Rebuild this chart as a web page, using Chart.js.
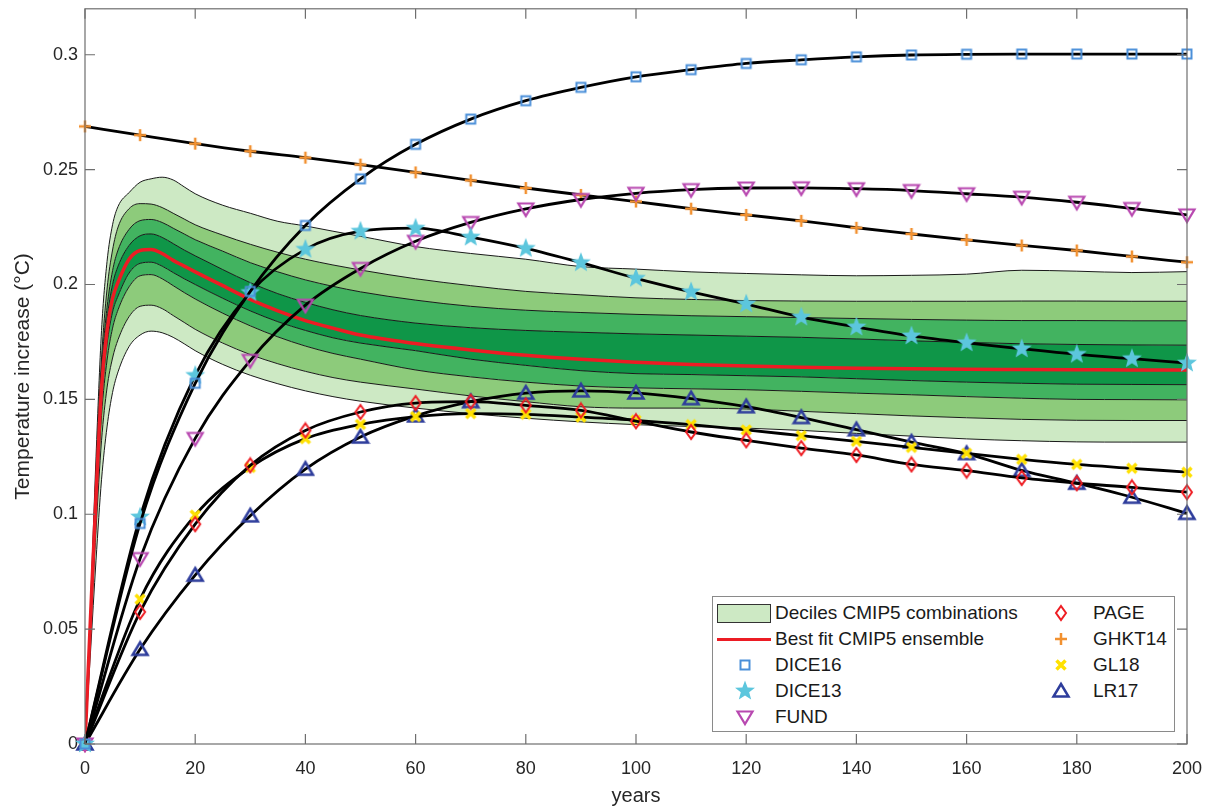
<!DOCTYPE html>
<html>
<head>
<meta charset="utf-8">
<script src="https://cdn.jsdelivr.net/npm/chart.js@4.4.1/dist/chart.umd.min.js"></script>
<style>
  body { margin: 0; background: #fff; font-family: "Liberation Sans", Arial, sans-serif; }
  #wrap { position: relative; width: 1209px; height: 808px; }
  #legend {
    position: absolute; left: 712px; top: 596px; width: 463px; height: 136px;
    border: 1px solid #8a8a8a; background: #fff; box-sizing: border-box;
    font-size: 19px; color: #1a1a1a;
  }
  .item { position: absolute; height: 24px; line-height: 24px; white-space: nowrap; }
  .item canvas { position: absolute; }
  .patch { position: absolute; left: 4px; top: 3px; width: 54px; height: 19px; background: #cde9c4; border: 1px solid #333; box-sizing: border-box; }
  .redline { position: absolute; left: 4px; top: 11px; width: 54px; height: 3px; background: #ec1c24; }
</style>
</head>
<body>
<div id="wrap">
  <canvas id="chart" width="1209" height="808"></canvas>
  <div id="legend"></div>
</div>
<script>
// model outputs every 10 years
const years = [0, 10, 20, 30, 40, 50, 60, 70, 80, 90, 100, 110, 120, 130, 140, 150, 160, 170, 180, 190, 200];
const dice16 = [0, 0.096, 0.157, 0.197, 0.2257, 0.246, 0.261, 0.272, 0.280, 0.2858, 0.2904, 0.2935, 0.2962, 0.2978, 0.2991, 0.2999, 0.3002, 0.3003, 0.3003, 0.3003, 0.3003];
const dice13 = [0, 0.0988, 0.1604, 0.1965, 0.2153, 0.2232, 0.2245, 0.2206, 0.2157, 0.2095, 0.2027, 0.1968, 0.1915, 0.1858, 0.1815, 0.1776, 0.1746, 0.172, 0.1696, 0.1677, 0.1658];
const fund = [0, 0.0807, 0.133, 0.167, 0.191, 0.207, 0.2188, 0.227, 0.2329, 0.237, 0.2397, 0.2413, 0.242, 0.2421, 0.2417, 0.2409, 0.2395, 0.238, 0.2358, 0.2331, 0.2303];
const ghkt14 = [0.2688, 0.265, 0.2613, 0.258, 0.2552, 0.2522, 0.2488, 0.2453, 0.242, 0.239, 0.2361, 0.233, 0.2303, 0.2277, 0.2247, 0.222, 0.2194, 0.217, 0.2148, 0.2122, 0.2097];
const page = [0, 0.0575, 0.0957, 0.1213, 0.1365, 0.1445, 0.1484, 0.149, 0.1474, 0.1452, 0.1405, 0.1358, 0.1322, 0.1288, 0.1258, 0.1217, 0.119, 0.1158, 0.1135, 0.1117, 0.1096];
const gl18 = [0, 0.063, 0.0996, 0.1204, 0.1329, 0.1391, 0.1425, 0.1438, 0.1435, 0.1423, 0.1409, 0.139, 0.1367, 0.1342, 0.1317, 0.1291, 0.1265, 0.1239, 0.1217, 0.12, 0.1183];
const lr17 = [0, 0.0412, 0.0735, 0.0993, 0.1196, 0.1336, 0.1428, 0.149, 0.1527, 0.1537, 0.1528, 0.1503, 0.1468, 0.1421, 0.1368, 0.1314, 0.1264, 0.1191, 0.1135, 0.1074, 0.1004];

// CMIP5 ensemble: finer grid at the start
const bandYears = [0, 1, 2, 3, 4, 5, 6, 8, 10, 12, 14, 16, 18, 20, 25, 30, 35, 40, 45, 50, 60, 70, 80, 90, 100, 110, 120, 130, 140, 150, 160, 170, 180, 190, 200];
const bestFit = [0, 0.055, 0.108, 0.155, 0.180, 0.194, 0.201, 0.211, 0.2148, 0.2152, 0.2135, 0.2105, 0.208, 0.2055, 0.1995, 0.1935, 0.1885, 0.1843, 0.181, 0.178, 0.1743, 0.1715, 0.1692, 0.1675, 0.1662, 0.1652, 0.1645, 0.164, 0.1636, 0.1633, 0.1631, 0.163, 0.1629, 0.1628, 0.1628];
const d10 = [0, 0.04, 0.08, 0.115, 0.138, 0.153, 0.162, 0.173, 0.178, 0.1797, 0.179, 0.177, 0.1742, 0.1712, 0.1652, 0.1605, 0.1568, 0.1537, 0.1512, 0.1492, 0.1462, 0.1438, 0.1418, 0.1402, 0.139, 0.1382, 0.1375, 0.1365, 0.1352, 0.134, 0.1328, 0.132, 0.1315, 0.1314, 0.1314];
const d20 = [0, 0.048, 0.093, 0.132, 0.155, 0.168, 0.176, 0.186, 0.1905, 0.191, 0.1895, 0.1865, 0.1835, 0.1805, 0.1745, 0.1695, 0.1655, 0.1622, 0.1595, 0.1575, 0.1545, 0.1515, 0.149, 0.1468, 0.1462, 0.1462, 0.1458, 0.1448, 0.1438, 0.1428, 0.142, 0.1413, 0.1409, 0.1408, 0.1408];
const d30 = [0, 0.052, 0.1, 0.143, 0.167, 0.181, 0.189, 0.199, 0.2038, 0.2043, 0.2025, 0.1995, 0.1965, 0.1937, 0.1875, 0.182, 0.1772, 0.1732, 0.17, 0.1675, 0.1628, 0.1598, 0.1575, 0.1558, 0.155, 0.1546, 0.1542, 0.1535, 0.1527, 0.152, 0.1512, 0.1505, 0.15, 0.1499, 0.1498];
const d40 = [0, 0.054, 0.105, 0.15, 0.174, 0.188, 0.195, 0.205, 0.2092, 0.2097, 0.208, 0.2052, 0.2025, 0.2, 0.194, 0.1885, 0.1838, 0.18, 0.1768, 0.1745, 0.1712, 0.1675, 0.1648, 0.1625, 0.1612, 0.1608, 0.1603, 0.1598, 0.159, 0.1582, 0.1575, 0.157, 0.1566, 0.1565, 0.1564];
const d60 = [0, 0.056, 0.111, 0.159, 0.185, 0.2, 0.208, 0.217, 0.2212, 0.222, 0.2205, 0.2178, 0.215, 0.2125, 0.2065, 0.2008, 0.196, 0.1922, 0.189, 0.1865, 0.1832, 0.1812, 0.18, 0.1792, 0.1785, 0.178, 0.1775, 0.177, 0.1763, 0.1755, 0.1748, 0.1742, 0.1739, 0.1737, 0.1736];
const d70 = [0, 0.057, 0.114, 0.163, 0.19, 0.206, 0.215, 0.224, 0.2278, 0.2283, 0.227, 0.2245, 0.222, 0.2195, 0.2145, 0.2095, 0.2055, 0.202, 0.1992, 0.1968, 0.1932, 0.1905, 0.1888, 0.1878, 0.187, 0.1864, 0.186, 0.1856, 0.1852, 0.1848, 0.1845, 0.1843, 0.1843, 0.1842, 0.1842];
const d80 = [0, 0.058, 0.118, 0.168, 0.198, 0.215, 0.225, 0.233, 0.2352, 0.235, 0.2335, 0.231, 0.2285, 0.226, 0.2215, 0.2175, 0.214, 0.211, 0.2085, 0.2063, 0.2025, 0.1995, 0.197, 0.1955, 0.1942, 0.1935, 0.193, 0.1928, 0.1927, 0.1927, 0.1927, 0.1928, 0.1928, 0.1927, 0.1927];
const d90 = [0, 0.06, 0.125, 0.18, 0.21, 0.226, 0.234, 0.24, 0.2445, 0.246, 0.2467, 0.2455, 0.2425, 0.2395, 0.2345, 0.231, 0.2275, 0.2255, 0.2232, 0.221, 0.2165, 0.2135, 0.211, 0.2078, 0.2067, 0.2055, 0.2048, 0.2042, 0.2038, 0.204, 0.2045, 0.2062, 0.2058, 0.2052, 0.2056];

const FONT = '"Liberation Sans", Arial, sans-serif';
const bandColors = { light: "#cde9c4", medium: "#8dcb7b", mid: "#42b360", dark: "#0f9648" };

// marker glyphs
function glyph(size, draw) {
    const c = document.createElement("canvas");
    c.width = c.height = size;
    const g = c.getContext("2d");
    draw(g, size / 2);
    return c;
}
const markers = {
    square: () => glyph(14, (g, c) => { g.strokeStyle = "#4a8fd9"; g.lineWidth = 2; g.strokeRect(c - 4.5, c - 4.5, 9, 9); }),
    star: () => glyph(24, (g, c) => {
        g.fillStyle = "#5cc6dd"; g.beginPath();
        for (let i = 0; i < 10; i++) {
            const r = i % 2 ? 4.4 : 10.5;
            const a = -Math.PI / 2 + i * Math.PI / 5;
            g.lineTo(c + r * Math.cos(a), c + r * Math.sin(a));
        }
        g.closePath(); g.fill();
    }),
    down: () => glyph(20, (g, c) => {
        g.strokeStyle = "#b848b0"; g.lineWidth = 2.2; g.beginPath();
        g.moveTo(c - 7.5, c - 5.5); g.lineTo(c + 7.5, c - 5.5); g.lineTo(c, c + 7); g.closePath(); g.stroke();
    }),
    plus: () => glyph(16, (g, c) => {
        g.strokeStyle = "#f29130"; g.lineWidth = 2.5; g.beginPath();
        g.moveTo(c - 6, c); g.lineTo(c + 6, c); g.moveTo(c, c - 6); g.lineTo(c, c + 6); g.stroke();
    }),
    cross: () => glyph(14, (g, c) => {
        g.strokeStyle = "#ffe100"; g.lineWidth = 3.5; g.beginPath();
        g.moveTo(c - 4.5, c - 4.5); g.lineTo(c + 4.5, c + 4.5); g.moveTo(c + 4.5, c - 4.5); g.lineTo(c - 4.5, c + 4.5); g.stroke();
    }),
    diamond: () => glyph(18, (g, c) => {
        g.strokeStyle = "#ee1d23"; g.lineWidth = 2; g.beginPath();
        g.moveTo(c, c - 7); g.lineTo(c + 5, c); g.lineTo(c, c + 7); g.lineTo(c - 5, c); g.closePath(); g.stroke();
    }),
    up: () => glyph(20, (g, c) => {
        g.strokeStyle = "#2e3d9c"; g.lineWidth = 2.5; g.beginPath();
        g.moveTo(c, c - 7); g.lineTo(c + 7.5, c + 5.5); g.lineTo(c - 7.5, c + 5.5); g.closePath(); g.stroke();
    }),
};

const toXY = (xs, ys) => xs.map((x, i) => ({ x, y: ys[i] }));

function model(label, ys, m) {
    return {
        label, data: toXY(years, ys), borderColor: "#000", borderWidth: 2.8,
        pointStyle: markers[m](), pointRadius: 6, cubicInterpolationMode: "monotone",
        fill: false, clip: false, order: 0,
    };
}
function band(label, ys, target, color) {
    return {
        label, data: toXY(bandYears, ys), borderColor: "#1a1a1a", borderWidth: 1,
        pointRadius: 0, cubicInterpolationMode: "monotone",
        fill: target === null ? false : { target }, backgroundColor: color, order: 2,
    };
}

const datasets = [
    model("DICE16", dice16, "square"),
    model("DICE13", dice13, "star"),
    model("FUND", fund, "down"),
    model("PAGE", page, "diamond"),
    model("GHKT14", ghkt14, "plus"),
    model("GL18", gl18, "cross"),
    model("LR17", lr17, "up"),
    {
        label: "Best fit CMIP5 ensemble", data: toXY(bandYears, bestFit), borderColor: "#ec1c24",
        borderWidth: 3.5, pointRadius: 0, cubicInterpolationMode: "monotone", fill: false, order: 1,
    },
    band("d10", d10, null, bandColors.light),
    band("d20", d20, 8, bandColors.light),
    band("d30", d30, 9, bandColors.medium),
    band("d40", d40, 10, bandColors.mid),
    band("d60", d60, 11, bandColors.dark),
    band("d70", d70, 12, bandColors.mid),
    band("d80", d80, 13, bandColors.medium),
    band("d90", d90, 14, bandColors.light),
];

// box around the axes with inward ticks (matlab style)
const framePlugin = {
    id: "frame",
    afterDatasetsDraw(chart) {
        const { ctx, chartArea: a, scales } = chart;
        ctx.save();
        ctx.strokeStyle = "#6e6e6e";
        ctx.lineWidth = 1.2;
        ctx.strokeRect(a.left, a.top, a.right - a.left, a.bottom - a.top);
        ctx.beginPath();
        scales.x.ticks.forEach(t => {
            const px = scales.x.getPixelForValue(t.value);
            ctx.moveTo(px, a.bottom); ctx.lineTo(px, a.bottom - 10);
            ctx.moveTo(px, a.top); ctx.lineTo(px, a.top + 10);
        });
        scales.y.ticks.forEach(t => {
            const py = scales.y.getPixelForValue(t.value);
            ctx.moveTo(a.left, py); ctx.lineTo(a.left + 10, py);
            ctx.moveTo(a.right, py); ctx.lineTo(a.right - 10, py);
        });
        ctx.stroke();
        ctx.restore();
    },
};

new Chart(document.getElementById("chart"), {
    type: "line",
    data: { datasets },
    plugins: [framePlugin],
    options: {
        responsive: false,
        animation: false,
        devicePixelRatio: 1,
        layout: { padding: { left: 6, right: 22, top: 8, bottom: 0 } },
        plugins: {
            legend: { display: false },
            tooltip: { enabled: false },
            filler: { drawTime: "beforeDatasetsDraw" },
        },
        scales: {
            x: {
                type: "linear", min: 0, max: 200,
                grid: { display: false, drawTicks: false }, border: { display: false },
                ticks: { stepSize: 20, font: { family: FONT, size: 18 }, color: "#262626", padding: 14, maxRotation: 0 },
                title: { display: true, text: "years", font: { family: FONT, size: 20 }, color: "#262626", padding: { top: 0, bottom: 0 } },
                afterFit: s => { s.height = 64; s.paddingLeft = 0; s.paddingRight = 0; },
            },
            y: {
                type: "linear", min: 0, max: 0.32,
                grid: { display: false, drawTicks: false }, border: { display: false },
                ticks: {
                    stepSize: 0.05, font: { family: FONT, size: 18 }, color: "#262626", padding: 7,
                    callback: v => String(+v.toFixed(2)),
                },
                afterBuildTicks: s => { s.ticks = s.ticks.filter(t => Math.abs(t.value * 20 - Math.round(t.value * 20)) < 1e-6); },
                title: { display: true, text: "Temperature increase (°C)", font: { family: FONT, size: 21 }, color: "#262626", padding: { top: 5, bottom: 0 } },
                afterFit: s => { s.width = 79; s.paddingTop = 0; s.paddingBottom = 0; },
            },
        },
    },
});

// legend inside the axes
const legendItems = [
    { kind: "patch", text: "Deciles CMIP5 combinations", col: 0, row: 0 },
    { kind: "line", text: "Best fit CMIP5 ensemble", col: 0, row: 1 },
    { kind: "square", text: "DICE16", col: 0, row: 2 },
    { kind: "star", text: "DICE13", col: 0, row: 3 },
    { kind: "down", text: "FUND", col: 0, row: 4 },
    { kind: "diamond", text: "PAGE", col: 1, row: 0 },
    { kind: "plus", text: "GHKT14", col: 1, row: 1 },
    { kind: "cross", text: "GL18", col: 1, row: 2 },
    { kind: "up", text: "LR17", col: 1, row: 3 },
];
const legend = document.getElementById("legend");
legendItems.forEach(it => {
    const d = document.createElement("div");
    d.className = "item";
    d.style.left = (it.col === 0 ? 0 : 330) + "px";
    d.style.top = (4 + it.row * 25.9) + "px";
    d.style.width = "300px";
    if (it.kind === "patch") {
        const p = document.createElement("div"); p.className = "patch"; d.appendChild(p);
    } else if (it.kind === "line") {
        const p = document.createElement("div"); p.className = "redline"; d.appendChild(p);
    } else {
        const c = markers[it.kind]();
        const cx = it.col === 0 ? 32 : 18;
        c.style.left = (cx - c.width / 2) + "px";
        c.style.top = (12 - c.height / 2) + "px";
        d.appendChild(c);
    }
    const span = document.createElement("span");
    span.textContent = it.text;
    span.style.position = "absolute";
    span.style.left = (it.col === 0 ? 62 : 50) + "px";
    d.appendChild(span);
    legend.appendChild(d);
});
</script>
</body>
</html>
